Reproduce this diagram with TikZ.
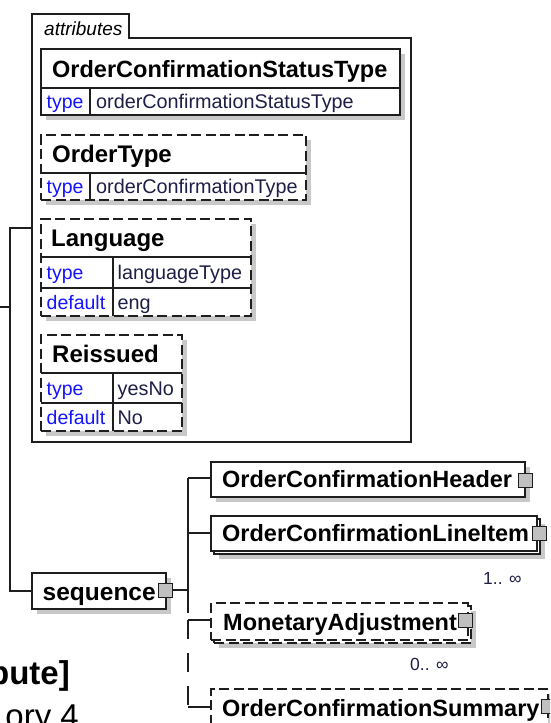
\documentclass[tikz,border=0pt]{standalone}
\usepackage{fontspec}
\setmainfont{Liberation Sans}
\usetikzlibrary{shadows}
\definecolor{shadowgray}{RGB}{200,200,200}
\definecolor{sqgray}{RGB}{192,192,192}
\definecolor{kwblue}{RGB}{20,20,255}
\definecolor{valcol}{RGB}{30,30,70}
\definecolor{linecol}{RGB}{30,30,30}
\begin{document}
\begin{tikzpicture}[x=1pt,y=-1pt,
  ln/.style={line width=1.2pt, draw=linecol},
  dsh/.style={dash pattern=on 10pt off 4.5pt},
  shad/.style={drop shadow={shadow xshift=5pt, shadow yshift=-5pt, fill=shadowgray, opacity=1}},
  box/.style={ln, fill=white, inner sep=0pt, outer sep=0pt, anchor=north west},
  sq/.style={ln, line width=1pt, fill=sqgray, minimum size=14pt, inner sep=0pt, outer sep=0pt},
  ttl/.style={inner sep=0pt, anchor=base west, font=\bfseries\fontsize{23.5}{24}\selectfont},
  ttlb/.style={inner sep=0pt, anchor=base west, font=\bfseries\fontsize{24}{24}\selectfont},
  kw/.style={inner sep=0pt, anchor=base west, text=kwblue, font=\fontsize{19.5}{20}\selectfont},
  val/.style={inner sep=0pt, anchor=base west, text=valcol, font=\fontsize{19.8}{20}\selectfont},
  card/.style={inner sep=0pt, anchor=base west, text=valcol, font=\fontsize{17.5}{18}\selectfont},
]
\clip (0,0) rectangle (550,723);
\fill[white] (0,0) rectangle (550,723);

% attributes container
\draw[ln] (32,442) -- (32,14) -- (129,14) -- (129,38) -- (411,38) -- (411,442) -- cycle;
\path node[inner sep=0pt, outer sep=0pt, anchor=north west, minimum width=379pt, minimum height=404pt] (attrs) at (32,38) {};
\node[inner sep=0pt, anchor=base west, font=\itshape\fontsize{19}{20}\selectfont] (attrlbl) at (44,35) {attributes};

% OrderConfirmationStatusType
\node[box, shad, minimum width=359pt, minimum height=66pt] (ast) at (41,49) {};
\draw[ln] (41,88) -- (400,88);
\draw[ln] (90,88) -- (90,115);
\node[ttl] (astt) at (52,77) {OrderConfirmationStatusType};
\node[kw] (astk) at (46.5,108.5) {type};
\node[val] (astv) at (96,108.5) {orderConfirmationStatusType};

% OrderType
\node[box, shad, dsh, minimum width=265pt, minimum height=65pt] (aot) at (41,135) {};
\draw[ln] (41,173) -- (306,173);
\draw[ln] (90,173) -- (90,200);
\node[ttlb] (aott) at (52,162.5) {OrderType};
\node[kw] (aotk) at (46.5,193) {type};
\node[val] (aotv) at (96,193) {orderConfirmationType};

% Language
\node[box, shad, dsh, minimum width=210pt, minimum height=97pt] (ala) at (41,219) {};
\draw[ln] (41,257) -- (251,257);
\draw[ln] (41,288) -- (251,288);
\draw[ln] (113,257) -- (113,316);
\node[ttlb] (alat) at (51,246.5) {Language};
\node[kw] (alak) at (46.5,279) {type};
\node[val] (alav) at (117.5,279) {languageType};
\node[kw] (alad) at (46.5,309) {default};
\node[val] (aladv) at (117.5,309) {eng};

% Reissued
\node[box, shad, dsh, minimum width=141pt, minimum height=96pt] (are) at (41,335) {};
\draw[ln] (41,373) -- (182,373);
\draw[ln] (41,403) -- (182,403);
\draw[ln] (113,373) -- (113,431);
\node[ttlb] (aret) at (52,362) {Reissued};
\node[kw] (arek) at (46.5,395) {type};
\node[val] (arev) at (117.5,395) {yesNo};
\node[kw] (ared) at (46.5,424.5) {default};
\node[val] (aredv) at (117.5,424.5) {No};

% sequence
\node[box, shad, minimum width=134pt, minimum height=36pt] (seq) at (32,573) {};
\node[inner sep=0pt, anchor=base west, font=\bfseries\fontsize{24.5}{25}\selectfont] (seqt) at (42.5,600) {sequence};
\node[sq] (seqsq) at (165.5,590) {};

% left connectors
\coordinate (lt) at (10,228);
\coordinate (lin) at (0,307);
\draw[ln] (lin) -- (lin -| lt);
\draw[ln] (attrs.west |- lt) -- (lt) -- (lt |- seq.west) -- (seq.west);

% OrderConfirmationHeader
\node[box, shad, minimum width=314pt, minimum height=35pt] (hdr) at (211,462) {};
\node[ttl] (hdrt) at (222,487) {OrderConfirmationHeader};
\node[sq] (hdrsq) at (525,480) {};

% OrderConfirmationLineItem
\node[box, shad, minimum width=326pt, minimum height=35pt] (libk) at (214,519) {};
\node[box, minimum width=326pt, minimum height=35pt] (li) at (211,516) {};
\node[ttl] (lit) at (222,541) {OrderConfirmationLineItem};
\node[sq] (lisq) at (539,533) {};
\node[card] (lic) at (483,584) {1.. ∞};

% MonetaryAdjustment
\node[box, shad, dsh, minimum width=257pt, minimum height=37pt] (mabk) at (214,606) {};
\node[box, dsh, minimum width=257pt, minimum height=37pt] (ma) at (211,603) {};
\node[ttl] (mat) at (223,630) {MonetaryAdjustment};
\node[sq] (masq) at (465.5,620) {};
\node[card] (mac) at (410,670) {0.. ∞};

% OrderConfirmationSummary
\node[box, shad, dsh, minimum width=337pt, minimum height=40pt] (su) at (211,689) {};
\node[ttl] (sut) at (222,716) {OrderConfirmationSummary};
\node[sq] (susq) at (548,706) {};

% bus connectors
\coordinate (bt) at (188,478);
\coordinate (bli) at (188,533);
\coordinate (bma) at (188,620);
\coordinate (bsu) at (188,707);
\coordinate (bse) at (188,613);
\draw[ln] (seqsq.east) -- (seqsq.east -| bt);
\draw[ln] (bt) -- (bse);
\draw[ln, dash pattern=on 19pt off 14pt] (bma) -- (bsu);
\draw[ln] (bt) -- (bt -| hdr.west);
\draw[ln] (bli) -- (bli -| li.west);
\draw[ln] (bma) -- (bma -| ma.west);
\draw[ln] (bsu) -- (bsu -| su.west);

% surrounding page text (cut)
\node[inner sep=0pt, anchor=base east, font=\bfseries\fontsize{33}{33}\selectfont] (pt1) at (70,684) {bute]};
\node[inner sep=0pt, anchor=base east, font=\fontsize{33}{33}\selectfont] (pt2) at (79,727) {ory 4};
\end{tikzpicture}
\end{document}
